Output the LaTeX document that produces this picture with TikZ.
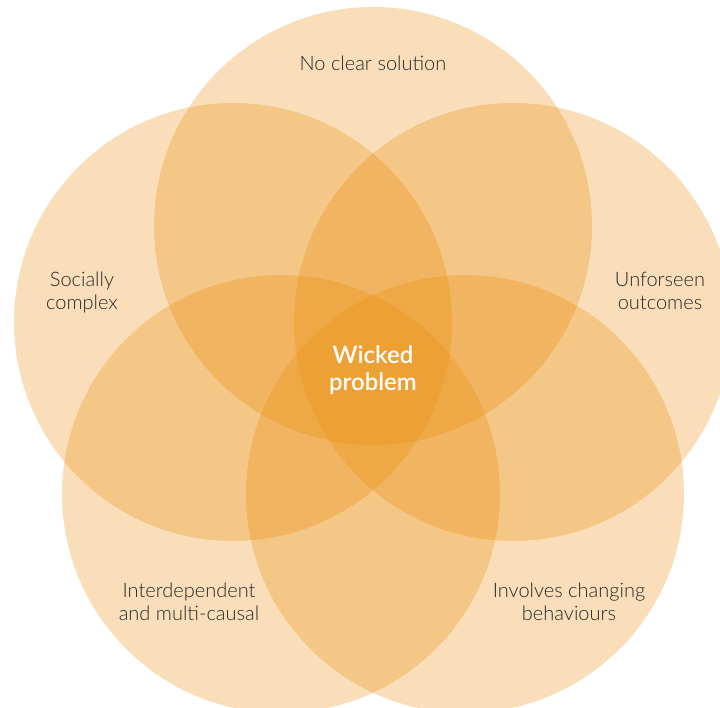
\documentclass[tikz,border=0pt]{standalone}
\usepackage{fontspec}
\setmainfont{Lato Light}
\newfontfamily\corefont{Lato Semibold}
\definecolor{petalorange}{RGB}{232,136,0}
\definecolor{labelgray}{RGB}{40,40,40}
\begin{document}
\begin{tikzpicture}[x=1pt,y=-1pt,
  petal/.style={fill=petalorange, fill opacity=0.275},
  lbl/.style={text=labelgray, font=\fontsize{20}{23}\selectfont, anchor=base, inner sep=0pt},
  core/.style={text=white, font=\corefont\fontsize{24}{28}\selectfont, anchor=base, inner sep=0pt}]
\useasboundingbox (0,0) rectangle (720,708);
\begin{scope}
\clip (0,0) rectangle (720,708);
\coordinate (ctop) at (373,226);
\coordinate (cleft) at (233,322);
\coordinate (cright) at (513,322);
\coordinate (cbl) at (281,494);
\coordinate (cbr) at (465,494);
\foreach \c in {ctop,cleft,cright,cbl,cbr}
  \fill[petal] (\c) circle[radius=219];
\end{scope}
\node[lbl] (t1) at (373,71) {No clear solution};
\node[lbl] (l1) at (82,287) {Socially};
\node[lbl] (l2) at (82,310) {complex};
\node[lbl] (r1) at (660,287) {Unforseen};
\node[lbl] (r2) at (660,310) {outcomes};
\node[lbl] (bl1) at (189,597) {Interdependent};
\node[lbl] (bl2) at (189,620) {and multi-causal};
\node[lbl] (br1) at (569,597) {Involves changing};
\node[lbl] (br2) at (569,620) {behaviours};
\node[core] (w1) at (373,363) {Wicked};
\node[core] (w2) at (373,391) {problem};
\end{tikzpicture}
\end{document}
